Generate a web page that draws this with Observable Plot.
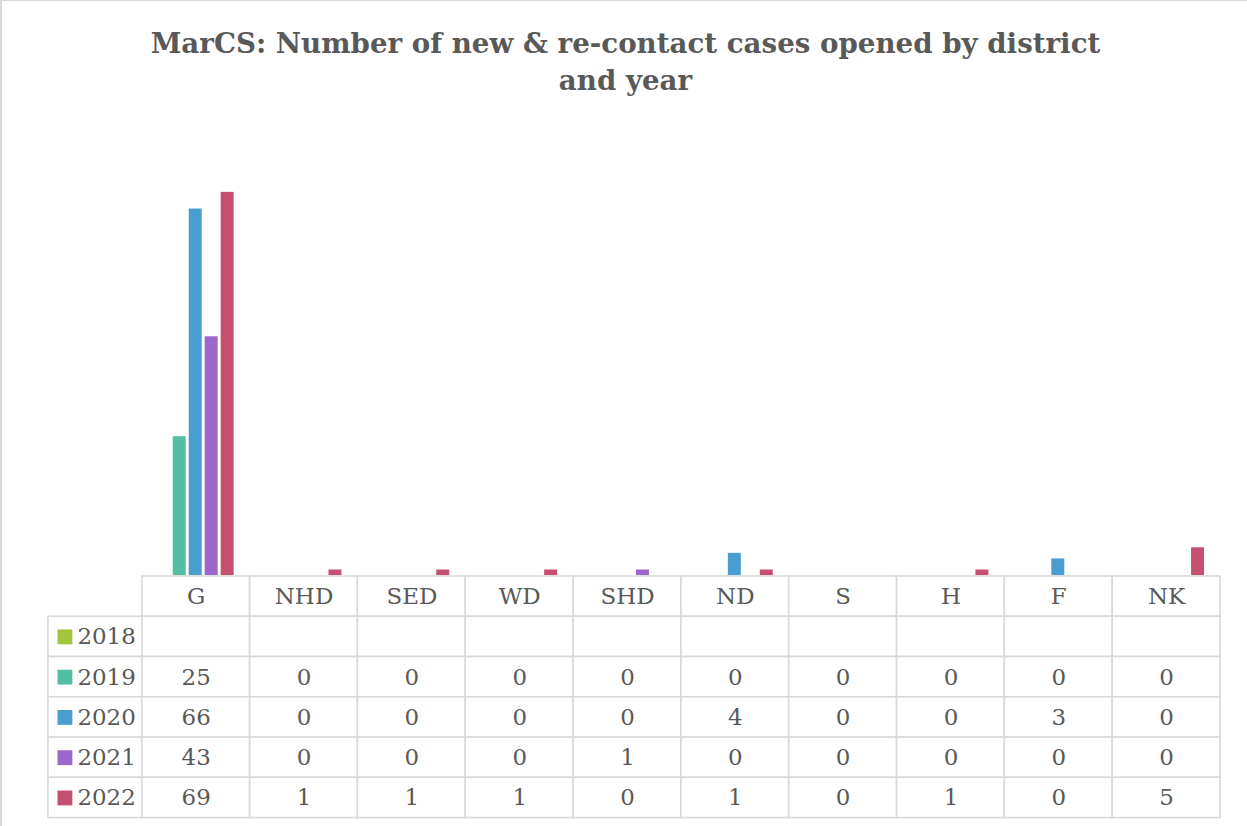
<!DOCTYPE html>
<html>
<head>
<meta charset="utf-8">
<script src="https://cdn.jsdelivr.net/npm/d3@7"></script>
<script src="https://cdn.jsdelivr.net/npm/@observablehq/plot@0.6"></script>
<style>
  html, body { margin: 0; padding: 0; background: #fff; }
  #wrap { position: relative; width: 1247px; height: 826px; overflow: hidden; background: #fff;
          box-sizing: border-box; border-left: 2px solid #d9d9d9; border-top: 1px solid #d9d9d9; }
  #title { position: absolute; left: 0; top: 24px; width: 1247px; text-align: center;
           font-family: "DejaVu Serif", serif; font-weight: bold; font-size: 27.7px; line-height: 37px; color: #595959; }
  #bars, #table { position: absolute; left: 0; }
  #bars { top: 0; }
  #table { top: 560px; }
  svg { overflow: visible; }
</style>
</head>
<body>
<div id="wrap">
  <div id="title">MarCS: Number of new &amp; re-contact cases opened by district<br>and year</div>
  <div id="bars"></div>
  <div id="table"></div>
</div>
<script>
const districts = ["G", "NHD", "SED", "WD", "SHD", "ND", "S", "H", "F", "NK"];
const years = ["2018", "2019", "2020", "2021", "2022"];
const v2018 = [null, null, null, null, null, null, null, null, null, null];
const v2019 = [25, 0, 0, 0, 0, 0, 0, 0, 0, 0];
const v2020 = [66, 0, 0, 0, 0, 4, 0, 0, 3, 0];
const v2021 = [43, 0, 0, 0, 1, 0, 0, 0, 0, 0];
const v2022 = [69, 1, 1, 1, 0, 1, 0, 1, 0, 5];
const yearColors = ["#a2c43f", "#52bfa4", "#4a9dcf", "#9b67cb", "#c44f71"];

const series = [v2018, v2019, v2020, v2021, v2022];
const FONT = "DejaVu Serif";
const TXT = "#595959";

// long data for bars
const barData = [];
years.forEach((yr, r) => {
  districts.forEach((d, i) => {
    const v = series[r][i];
    if (v != null) barData.push({district: d, year: yr, value: v});
  });
});

const bars = Plot.plot({
  width: 1247,
  height: 576,
  marginLeft: 140,
  marginRight: 27,
  marginTop: 130,
  marginBottom: 1,
  fx: {domain: districts, padding: 0, axis: null},
  x: {domain: years, paddingInner: 0.18, paddingOuter: 0.86, axis: null},
  y: {domain: [0, 80], axis: null},
  color: {domain: years, range: yearColors},
  marks: [
    Plot.barY(barData, {fx: "district", x: "year", y: "value", fill: "year"})
  ]
});
document.getElementById("bars").appendChild(bars);

// table cells
const cells = [];
districts.forEach((d, i) => cells.push({x1: i, x2: i + 1, y1: 0, y2: 1, text: d, kind: "head"}));
years.forEach((yr, r) => {
  cells.push({x1: -1, x2: 0, y1: r + 1, y2: r + 2, text: yr, kind: "label", year: yr});
  districts.forEach((d, i) => {
    const v = series[r][i];
    cells.push({x1: i, x2: i + 1, y1: r + 1, y2: r + 2, text: v == null ? "" : String(v), kind: "val"});
  });
});
const labelCells = cells.filter(c => c.kind === "label");
const centerCells = cells.filter(c => c.kind !== "label");

const table = Plot.plot({
  width: 1247,
  height: 266,
  x: {type: "linear", domain: [-1, 0, 10], range: [46, 140, 1220], axis: null},
  y: {domain: [0, 6], range: [15, 257], axis: null},
  color: {domain: years, range: yearColors},
  style: {fontFamily: FONT},
  marks: [
    Plot.rect(cells, {x1: "x1", x2: "x2", y1: "y1", y2: "y2", fill: "white", stroke: "#d9d9d9", strokeWidth: 1.6}),
    Plot.text(centerCells, {x: d => (d.x1 + d.x2) / 2, y: d => (d.y1 + d.y2) / 2, text: "text",
      fontSize: 23, fill: TXT, fontFamily: FONT}),
    Plot.dot(labelCells, {x: "x1", y: d => (d.y1 + d.y2) / 2, dx: 16.5, symbol: "square", r: 8.4, fill: "year"}),
    Plot.text(labelCells, {x: "x1", y: d => (d.y1 + d.y2) / 2, dx: 29, text: "text", textAnchor: "start",
      fontSize: 23, fill: TXT, fontFamily: FONT})
  ]
});
document.getElementById("table").appendChild(table);
</script>
</body>
</html>
